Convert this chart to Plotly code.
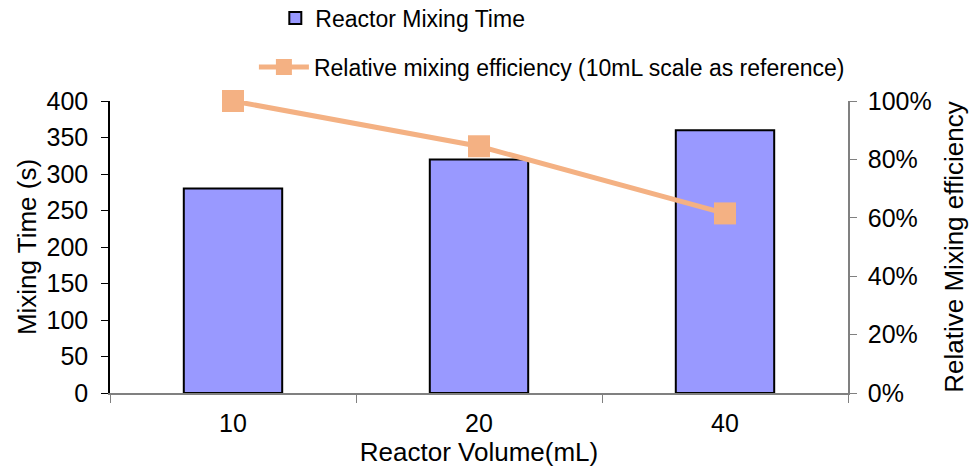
import plotly.graph_objects as go

categories = ["10", "20", "40"]
mixing_time = [280, 320, 360]
relative_eff = [1.0, 0.845, 0.615]

FONT = "Liberation Sans, Arial, sans-serif"
bar_color = "#9999FF"
line_color = "#F4B183"
TICK_FS = 25
TITLE_FS = 26
LEG_FS = 23

fig = go.Figure()
fig.add_trace(go.Bar(
    x=categories, y=mixing_time, name="Reactor Mixing Time",
    marker=dict(color=bar_color, line=dict(color="black", width=2)),
    width=0.4, legend="legend",
))
fig.add_trace(go.Scatter(
    x=categories, y=relative_eff, name="Relative mixing efficiency (10mL scale as reference)",
    mode="lines+markers", yaxis="y2", cliponaxis=False,
    line=dict(color=line_color, width=5),
    marker=dict(symbol="square", size=22, color=line_color),
    legend="legend2",
))

fig.update_layout(
    width=970, height=468,
    margin=dict(l=110, r=122, t=101, b=75, autoexpand=False),
    paper_bgcolor="white", plot_bgcolor="white",
    font=dict(family=FONT, size=TICK_FS, color="black"),
    xaxis=dict(
        type="category", showline=True, linecolor="#808080", linewidth=1.5,
        ticks="outside", tickson="boundaries", ticklen=8, tickcolor="#808080",
        ticklabelstandoff=7,
        title=dict(text="Reactor Volume(mL)", standoff=0, font=dict(size=TITLE_FS)),
        tickfont=dict(size=TICK_FS), showgrid=False, zeroline=False,
    ),
    yaxis=dict(
        range=[0, 400], dtick=50, showline=True, linecolor="black", linewidth=1.5,
        ticks="outside", ticklen=7, tickcolor="black", showgrid=False, zeroline=False,
        ticklabelstandoff=8,
        title=dict(text="Mixing Time (s)", standoff=2, font=dict(size=TITLE_FS)),
        tickfont=dict(size=TICK_FS),
    ),
    yaxis2=dict(
        range=[0, 1], dtick=0.2, tickformat=".0%", overlaying="y", side="right",
        showline=True, linecolor="#808080", linewidth=1.5,
        ticks="outside", ticklen=7, tickcolor="#808080", showgrid=False, zeroline=False,
        ticklabelstandoff=6,
        title=dict(text="Relative Mixing efficiency", standoff=14, font=dict(size=TITLE_FS)),
        tickfont=dict(size=TICK_FS),
    ),
    showlegend=True,
    legend=dict(x=0.224, y=1.284, xanchor="left", yanchor="middle", font=dict(size=LEG_FS),
                bgcolor="rgba(0,0,0,0)", itemwidth=30),
    legend2=dict(x=0.195, y=1.116, xanchor="left", yanchor="middle", font=dict(size=LEG_FS),
                 bgcolor="rgba(0,0,0,0)", itemwidth=50),
)

fig.write_html("out.html")
